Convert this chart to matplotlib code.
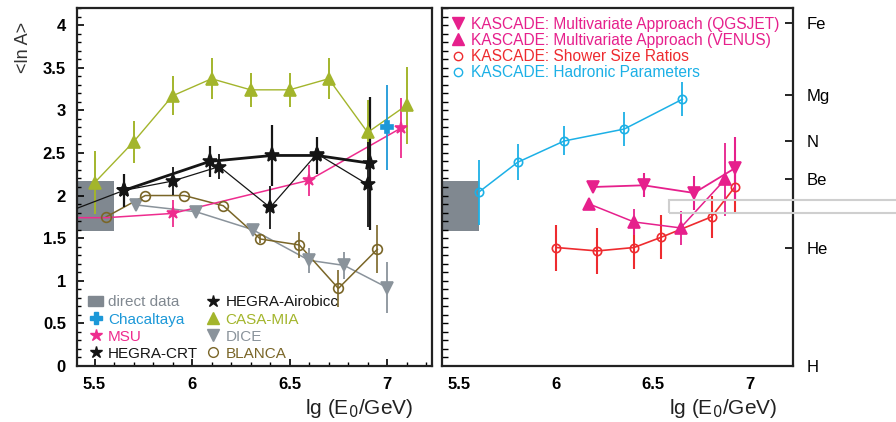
import matplotlib
matplotlib.use("Agg")
import matplotlib.pyplot as plt
from matplotlib.patches import Rectangle
from matplotlib.lines import Line2D
from matplotlib.patches import Patch
import numpy as np

plt.rcParams['font.family'] = ['Liberation Sans', 'DejaVu Sans']

# ---------------- data (left panel) ----------------
direct_x = [5.41, 5.6]
direct_y = [1.58, 2.17]

casa_x = [5.5, 5.7, 5.9, 6.1, 6.3, 6.5, 6.7, 6.9, 7.1]
casa_y = [2.15, 2.63, 3.17, 3.37, 3.24, 3.24, 3.37, 2.74, 3.06]
casa_e = [0.37, 0.25, 0.23, 0.24, 0.2, 0.2, 0.24, 0.38, 0.45]

chac_x = [7.0]
chac_y = [2.80]
chac_e = [0.5]

msu_x = [5.42, 5.56, 5.9, 6.6, 7.07]
msu_y = [1.74, 1.74, 1.79, 2.18, 2.79]
msu_e = [0.0, 0.0, 0.16, 0.18, 0.35]

hegA_x = [5.65, 6.09, 6.41, 6.64, 6.91]
hegA_y = [2.06, 2.40, 2.47, 2.47, 2.38]
hegA_e = [0.19, 0.18, 0.36, 0.22, 0.78]

hegB_x = [5.41, 5.65, 5.9, 6.14, 6.40, 6.64, 6.90]
hegB_y = [1.85, 2.06, 2.17, 2.34, 1.86, 2.49, 2.13]
hegB_e = [0.0, 0.0, 0.16, 0.15, 0.25, 0.2, 0.5]

dice_x = [5.71, 6.02, 6.31, 6.60, 6.78, 7.0]
dice_y = [1.89, 1.81, 1.60, 1.24, 1.18, 0.92]
dice_e = [0.0, 0.0, 0.05, 0.15, 0.16, 0.3]

blanca_x = [5.56, 5.76, 5.96, 6.16, 6.35, 6.55, 6.75, 6.95]
blanca_y = [1.75, 2.0, 2.0, 1.88, 1.49, 1.42, 0.91, 1.37]
blanca_e = [0.0, 0.0, 0.0, 0.0, 0.05, 0.15, 0.22, 0.28]

# ---------------- data (right panel) ----------------
had_x = [5.60, 5.80, 6.04, 6.35, 6.65]
had_y = [2.04, 2.39, 2.64, 2.78, 3.13]
had_e = [0.38, 0.21, 0.17, 0.2, 0.2]

qgs_x = [6.19, 6.45, 6.71, 6.92]
qgs_y = [2.10, 2.12, 2.03, 2.32]
qgs_e = [0.0, 0.14, 0.2, 0.37]

ven_x = [6.17, 6.40, 6.64, 6.87]
ven_y = [1.90, 1.69, 1.62, 2.19]
ven_e = [0.0, 0.15, 0.2, 0.43]

ssr_x = [6.0, 6.21, 6.40, 6.54, 6.80, 6.92]
ssr_y = [1.39, 1.35, 1.39, 1.51, 1.75, 2.10]
ssr_e = [0.27, 0.27, 0.25, 0.26, 0.25, 0.3]

elements = ['H', 'He', 'Be', 'N', 'Mg', 'Fe']
element_A = [1, 4, 9, 14, 24, 56]

x_ticks = [5.5, 6.0, 6.5, 7.0]
x_ticklabels = ['5.5', '6', '6.5', '7']
y_ticks = [0, 0.5, 1, 1.5, 2, 2.5, 3, 3.5, 4]
y_ticklabels = ['0', '0.5', '1', '1.5', '2', '2.5', '3', '3.5', '4']

# ---------------- colours ----------------
C_CASA = '#a3b52c'
C_CHAC = '#1c98d8'
C_MSU = '#ee2c8e'
C_HEG = '#151515'
C_DICE = '#8a939b'
C_BLANCA = '#7a6628'
C_DIRECT = '#808890'
C_KAS = '#e6208c'
C_SSR = '#ee2b2f'
C_HAD = '#1cb0e6'

W, H = 896, 422
fig = plt.figure(figsize=(W / 100, H / 100), dpi=100)

def fx(px):
    return px / W

def fy(py):
    return 1 - py / H

axL = fig.add_axes([fx(77), fy(366), fx(432) - fx(77), fy(8) - fy(366)])
axR = fig.add_axes([fx(442), fy(366), fx(793) - fx(442), fy(8) - fy(366)])

for ax in (axL, axR):
    ax.set_xlim(5.41, 7.23)
    ax.set_ylim(0, 4.2)
    for s in ax.spines.values():
        s.set_linewidth(1.6)
        s.set_color('#222222')
axR.set_xlim(5.41, 7.22)


def series(ax, x, y, e, color, marker, ms, lw=1.0, elw=1.3, mfc=None, zorder=3, mark_from=0):
    ax.plot(x, y, '-', color=color, lw=lw, zorder=zorder)
    xs = x[mark_from:]
    ys = y[mark_from:]
    es = e[mark_from:]
    ax.errorbar(xs, ys, yerr=es, fmt='none', ecolor=color, elinewidth=elw, capsize=0, zorder=zorder)
    ax.plot(xs, ys, linestyle='none', marker=marker, ms=ms, color=color,
            mfc=(mfc if mfc is not None else color), mec=color, mew=1.2, zorder=zorder + 0.5)


# ---- left panel ----
axL.add_patch(Rectangle((direct_x[0], direct_y[0]), direct_x[1] - direct_x[0],
                        direct_y[1] - direct_y[0], color=C_DIRECT, lw=0, zorder=1))
series(axL, casa_x, casa_y, casa_e, C_CASA, '^', 8, lw=1.0, elw=1.4)
series(axL, dice_x, dice_y, dice_e, C_DICE, 'v', 8, lw=1.1, elw=1.3)
series(axL, blanca_x, blanca_y, blanca_e, C_BLANCA, 'o', 7, lw=1.1, elw=1.2, mfc='none')
series(axL, msu_x, msu_y, msu_e, C_MSU, '*', 9, lw=1.1, elw=1.3, mark_from=2)
series(axL, hegB_x, hegB_y, hegB_e, C_HEG, '*', 10, lw=0.9, elw=1.3, mark_from=1)
series(axL, hegA_x, hegA_y, hegA_e, C_HEG, '*', 11, lw=2.0, elw=1.6)
series(axL, chac_x, chac_y, chac_e, C_CHAC, 'P', 9, lw=1.0, elw=1.3)

axL.set_xticks(x_ticks)
axL.set_xticklabels(x_ticklabels)
axL.set_yticks(y_ticks)
axL.set_yticklabels(y_ticklabels)
axL.set_xticks(np.arange(5.5, 7.21, 0.1), minor=True)
axL.set_yticks(np.arange(0, 4.21, 0.1), minor=True)
axL.tick_params(which='both', direction='in', top=False, right=False)
axL.tick_params(which='major', length=5, width=1.2, labelsize=12, pad=8)
axL.tick_params(which='minor', length=3, width=1.0)
for lab in axL.get_xticklabels() + axL.get_yticklabels():
    lab.set_fontweight('bold')

handles = [
    Patch(color=C_DIRECT),
    Line2D([], [], ls='none', marker='P', color=C_CHAC, ms=8),
    Line2D([], [], ls='none', marker='*', color=C_MSU, ms=9),
    Line2D([], [], ls='none', marker='*', color=C_HEG, ms=9),
    Line2D([], [], ls='none', marker='*', color=C_HEG, ms=9),
    Line2D([], [], ls='none', marker='^', color=C_CASA, ms=8),
    Line2D([], [], ls='none', marker='v', color=C_DICE, ms=8),
    Line2D([], [], ls='none', marker='o', color=C_BLANCA, mfc='none', ms=7),
]
labels = ['direct data', 'Chacaltaya', 'MSU', 'HEGRA-CRT',
          'HEGRA-Airobicc', 'CASA-MIA', 'DICE', 'BLANCA']
lcolors = [C_DIRECT, C_CHAC, C_MSU, C_HEG, C_HEG, C_CASA, C_DICE, C_BLANCA]
axL.legend(handles, labels, ncol=2, loc='lower left', bbox_to_anchor=(0.016, 0.0),
           frameon=False, fontsize=11, labelcolor=lcolors, handlelength=1.0,
           handletextpad=0.3, columnspacing=0.5, labelspacing=0.2,
           borderaxespad=0.15, borderpad=0.2)

# ---- right panel ----
axR.add_patch(Rectangle((direct_x[0], direct_y[0]), direct_x[1] - direct_x[0],
                        direct_y[1] - direct_y[0], color=C_DIRECT, lw=0, zorder=1))
series(axR, had_x, had_y, had_e, C_HAD, 'o', 6, lw=1.1, elw=1.3, mfc='none')
series(axR, ssr_x, ssr_y, ssr_e, C_SSR, 'o', 6, lw=1.2, elw=1.5, mfc='none')
series(axR, ven_x, ven_y, ven_e, C_KAS, '^', 8, lw=1.1, elw=1.3)
series(axR, qgs_x, qgs_y, qgs_e, C_KAS, 'v', 8, lw=1.3, elw=1.5)

axR.set_xticks(x_ticks)
axR.set_xticklabels(x_ticklabels)
axR.set_yticks(np.log(element_A))
axR.set_yticklabels(elements)
axR.set_yticks(np.arange(0, 4.21, 0.1), minor=True)
axR.yaxis.tick_right()
axR.tick_params(axis='x', which='both', length=0, labelsize=12, pad=8)
axR.tick_params(axis='y', which='major', direction='in', length=6, width=1.2,
                labelsize=12, pad=10)
axR.tick_params(axis='y', which='minor', direction='in', length=4, width=1.0,
                left=True, right=False)
for lab in axR.get_xticklabels():
    lab.set_fontweight('bold')

rhandles = [
    Line2D([], [], ls='none', marker='v', color=C_KAS, ms=8),
    Line2D([], [], ls='none', marker='^', color=C_KAS, ms=8),
    Line2D([], [], ls='none', marker='o', color=C_SSR, mfc='none', ms=6),
    Line2D([], [], ls='none', marker='o', color=C_HAD, mfc='none', ms=6),
]
rlabels = ['KASCADE: Multivariate Approach (QGSJET)',
           'KASCADE: Multivariate Approach (VENUS)',
           'KASCADE: Shower Size Ratios',
           'KASCADE: Hadronic Parameters']
axR.legend(rhandles, rlabels, loc='upper left', frameon=False, fontsize=11.2,
           labelcolor=[C_KAS, C_KAS, C_SSR, C_HAD], handlelength=1.0,
           handletextpad=0.3, labelspacing=0.08, borderaxespad=0.35, borderpad=0.2)

# axis titles
fig.text(fx(413), fy(408), r'lg (E$_0$/GeV)', ha='right', va='center', fontsize=15, color='#222222')
fig.text(fx(777), fy(408), r'lg (E$_0$/GeV)', ha='right', va='center', fontsize=15, color='#222222')
fig.text(fx(23), fy(47), r'<ln A>', ha='center', va='center', rotation=90, fontsize=13, color='#333333')

# light grey frame artefact on the right
fig.patches.append(Rectangle((fx(669), fy(213)), fx(900) - fx(669), fy(200) - fy(213),
                             transform=fig.transFigure, fill=False, ec='#cfcfcf', lw=1.5))

fig.savefig('out.png', dpi=100)
